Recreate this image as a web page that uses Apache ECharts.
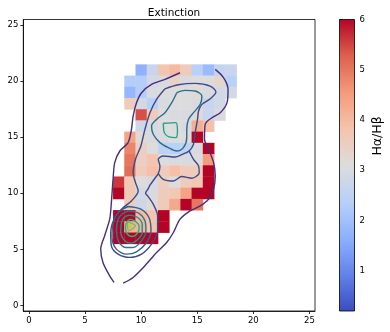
<!DOCTYPE html>
<html>
<head>
<meta charset="utf-8">
<script src="https://cdn.jsdelivr.net/npm/echarts@6/dist/echarts.min.js"></script>
<style>
  html, body { margin: 0; padding: 0; background: #fff; }
  #chart { width: 390px; height: 332px; }
</style>
</head>
<body>
<div id="chart"></div>
<script>
// grid cells: columns and rows of the binned map
const cols = [8, 9, 10, 11, 12, 13, 14, 15, 16, 17, 18];
const rows = [21, 20, 19, 18, 17, 16, 15, 14, 13, 12, 11, 10, 9, 8, 7, 6];
// Hα/Hβ per cell, one line per row (top to bottom), null = empty
const ratio = [
  [null, null, 1.7, 2.7, 3.8, 4.0, 3.6, 2.4, 1.9, 2.6, 2.7],
  [null, 2.3, 2.3, 2.9, 3.0, 3.4, 3.0, 3.1, 3.1, 3.3, 2.4],
  [null, 1.8, 2.3, 3.0, 3.1, 3.1, 3.1, 3.2, 3.0, 2.9, 2.9],
  [null, 3.6, 2.9, 2.4, 3.0, 3.1, 3.1, 3.0, 2.7, 2.9, null],
  [null, null, 5.4, 3.6, 3.1, 3.0, 3.0, 3.2, 2.7, 3.0, null],
  [null, null, 2.8, 3.0, 3.1, 3.1, 3.0, 4.2, 3.9, null, null],
  [null, 4.4, 3.2, 3.0, 3.0, 3.1, 3.1, 6.0, null, null, null],
  [null, 4.8, 3.5, 3.1, 2.5, 2.4, 2.5, 3.0, 6.0, null, null],
  [null, 5.0, 3.5, 3.8, 3.1, 3.0, 3.0, 3.1, 4.5, null, null],
  [null, 5.1, 3.6, 3.9, 3.6, 3.9, 3.6, 3.6, 6.0, null, null],
  [5.6, 3.7, 3.1, 3.0, 3.5, 3.1, 3.6, 3.7, 6.0, null, null],
  [6.0, 3.7, 2.9, 3.0, 3.6, 3.7, 4.4, 6.0, 6.0, null, null],
  [null, 3.6, 2.8, 3.2, 3.6, 4.3, 6.0, 5.0, null, null, null],
  [6.0, 6.0, 4.0, 3.8, 6.0, null, null, null, null, null, null],
  [6.0, 4.2, 4.1, 3.8, 6.0, null, null, null, null, null, null],
  [6.0, 6.0, 6.0, 6.0, null, null, null, null, null, null, null]
];

// density contours (data coordinates)
const outerLeft = [[13.47,20.75],[12.13,20.16],[10.93,19.71],[10.04,18.97],[9.59,18.08],[9.29,16.89],[9.14,15.70],[8.84,14.52],[8.10,13.77],[7.65,12.74],[7.50,11.25],[7.35,9.17],[7.20,7.69],[6.75,6.21],[6.40,5.02],[6.60,3.83],[7.20,2.64],[7.59,2.05]];
const outerRight = [[16.61,21.05],[17.36,20.30],[17.75,19.27],[17.66,18.08],[17.06,17.19],[16.31,16.74],[15.71,16.15],[15.65,14.81],[16.01,13.92],[16.46,12.74],[16.61,11.55],[16.46,10.36],[16.01,9.47],[15.27,8.88],[14.37,8.43],[13.47,7.69],[12.88,6.50],[12.28,5.61],[11.38,4.72],[10.34,3.53],[9.29,2.49],[8.40,1.99]];
const level2 = [[12.13,19.32],[13.32,19.68],[14.82,19.80],[16.16,19.56],[16.67,19.03],[16.16,18.43],[15.42,17.93],[15.12,17.34],[15.03,16.59],[14.82,15.41],[14.67,14.37],[14.28,13.77],[13.62,13.45],[13.03,13.24],[11.98,13.33],[11.53,13.03],[11.68,12.38],[11.53,11.76],[11.17,11.25],[10.79,10.72],[10.64,10.42],[10.40,10.00],[10.58,9.77],[11.08,9.03],[11.47,7.99],[11.47,6.65],[10.93,5.46],[10.04,4.57],[8.99,4.28],[7.95,4.57],[7.35,5.31],[7.29,6.50],[7.59,7.69],[8.25,8.58],[9.14,9.32],[9.74,10.21],[9.50,10.95],[9.29,11.84],[9.50,13.03],[9.98,14.22],[10.34,15.70],[10.79,17.19],[11.38,18.37],[12.13,19.32]];
const level2Lobe = [[11.53,11.76],[11.98,11.25],[12.88,11.10],[13.62,11.49],[14.52,11.34],[15.18,11.84],[15.12,12.44],[14.67,13.03],[14.28,13.77]];
const upper3 = [[13.18,18.97],[13.92,19.18],[14.82,19.12],[15.42,18.67],[15.27,17.93],[14.67,17.19],[14.22,16.59],[14.07,15.70],[14.07,14.96],[13.77,14.07],[13.18,13.77],[12.43,14.07],[11.68,14.52],[11.08,15.26],[10.93,16.00],[11.38,16.59],[12.13,17.19],[12.73,18.08],[13.18,18.97]];
const upper4 = [[11.98,16.24],[13.09,16.30],[13.24,15.56],[13.09,14.96],[12.43,15.05],[12.07,15.41],[11.98,16.24]];
const lower3 = [[8.84,8.82],[9.98,8.58],[10.70,7.84],[10.88,6.65],[10.49,5.61],[9.59,4.78],[8.69,4.57],[7.80,5.02],[7.41,6.06],[7.50,7.39],[8.01,8.34],[8.84,8.82]];
const lower4 = [[8.90,8.43],[9.80,8.22],[10.34,7.54],[10.43,6.65],[10.04,5.76],[9.29,5.17],[8.61,5.17],[8.01,5.67],[7.80,6.65],[7.95,7.69],[8.40,8.22],[8.90,8.43]];
const lower5 = [[8.99,8.05],[9.68,7.84],[10.10,7.24],[10.10,6.50],[9.68,5.85],[9.08,5.55],[8.55,5.76],[8.19,6.50],[8.25,7.39],[8.55,7.90],[8.99,8.05]];
const lower6 = [[9.05,7.69],[9.56,7.45],[9.83,7.04],[9.68,6.44],[9.23,6.15],[8.78,6.35],[8.61,6.95],[8.72,7.45],[9.05,7.69]];
const lower7 = [[8.78,7.45],[9.50,7.10],[8.90,6.65],[8.78,7.45]];
const lower8 = [[8.90,7.19],[9.14,7.10],[8.93,6.98],[8.90,7.19]];

const axisTicks = [0, 5, 10, 15, 20, 25];
const barTicks = [1, 2, 3, 4, 5, 6];
const barMin = 0.2, barMax = 6;

const coolwarm = ['#3b4cc0', '#6282ea', '#8db0fe', '#b8d0f9', '#dddcdc', '#f5c4ac', '#f49a7b', '#de604d', '#b40426'];

const cells = [];
rows.forEach((r, i) => {
  cols.forEach((c, j) => {
    const v = ratio[i][j];
    if (v != null) cells.push([c, r, v]);
  });
});

const contours = [
  [outerLeft, '#472f7d'], [outerRight, '#472f7d'],
  [level2, '#3e4a89'], [level2Lobe, '#3e4a89'],
  [upper3, '#2e6c8e'], [upper4, '#23a08f'],
  [lower3, '#33638d'], [lower4, '#2a788e'], [lower5, '#21918c'],
  [lower6, '#2ab07f'], [lower7, '#5ec962'], [lower8, '#addc30']
];

const font = 'DejaVu Sans';
const chart = echarts.init(document.getElementById('chart'), null, { renderer: 'canvas' });

const option = {
  animation: false,
  backgroundColor: '#fff',
  title: {
    text: 'Extinction',
    left: 169, top: 3, textAlign: 'center',
    textStyle: { fontFamily: font, fontSize: 10.5, fontWeight: 'normal', color: '#000' }
  },
  grid: [
    { left: 23.3, top: 19.5, width: 291.7, height: 291.5, show: true, borderColor: '#000', borderWidth: 0.8, backgroundColor: 'transparent' },
    { left: 339.5, top: 19.5, width: 15, height: 291.5, show: false }
  ],
  xAxis: [
    {
      type: 'value', gridIndex: 0, min: -0.5, max: 25.5,
      axisLine: { show: true, onZero: false, lineStyle: { color: '#000', width: 0.8 } },
      axisTick: { show: true, length: 3, customValues: axisTicks, lineStyle: { color: '#000', width: 0.8 } },
      axisLabel: { customValues: axisTicks, fontFamily: font, fontSize: 8.5, color: '#000', margin: 5 },
      splitLine: { show: false }
    },
    { type: 'value', gridIndex: 1, min: 0, max: 1, show: false }
  ],
  yAxis: [
    {
      type: 'value', gridIndex: 0, min: -0.5, max: 25.5,
      axisLine: { show: true, onZero: false, lineStyle: { color: '#000', width: 0.8 } },
      axisTick: { show: true, length: 3, customValues: axisTicks, lineStyle: { color: '#000', width: 0.8 } },
      axisLabel: { customValues: axisTicks, fontFamily: font, fontSize: 8.5, color: '#000', margin: 5 },
      splitLine: { show: false }
    },
    {
      type: 'value', gridIndex: 1, min: barMin, max: barMax, position: 'right',
      axisLine: { show: false },
      axisTick: { show: true, length: 3, customValues: barTicks, lineStyle: { color: '#000', width: 0.8 } },
      axisLabel: { customValues: barTicks, fontFamily: font, fontSize: 8.5, color: '#000', margin: 5 },
      splitLine: { show: false }
    }
  ],
  visualMap: {
    show: false, seriesIndex: 0, dimension: 2,
    min: barMin, max: barMax,
    inRange: { color: coolwarm }
  },
  graphic: [{
    type: 'text', x: 378, y: 136, rotation: Math.PI / 2,
    style: {
      text: 'Hα/Hβ', fontFamily: font, fontSize: 12.5, fill: '#000',
      align: 'center', verticalAlign: 'middle'
    }
  }],
  series: [
    {
      type: 'custom', xAxisIndex: 0, yAxisIndex: 0, data: cells,
      renderItem: function (params, api) {
        const x = api.value(0), y = api.value(1);
        const p0 = api.coord([x - 0.5, y + 0.5]);
        const p1 = api.coord([x + 0.5, y - 0.5]);
        return {
          type: 'rect',
          shape: { x: p0[0], y: p0[1], width: p1[0] - p0[0] + 0.4, height: p1[1] - p0[1] + 0.4 },
          style: { fill: api.visual('color') }
        };
      }
    },
    {
      type: 'custom', xAxisIndex: 1, yAxisIndex: 1, data: [[0, barMin, barMax]], silent: true,
      renderItem: function (params, api) {
        const top = api.coord([0, api.value(2)]);
        const bottom = api.coord([1, api.value(1)]);
        const stops = coolwarm.map((c, i) => ({ offset: i / (coolwarm.length - 1), color: c }));
        return {
          type: 'rect',
          shape: { x: top[0], y: top[1], width: bottom[0] - top[0], height: bottom[1] - top[1] },
          style: {
            fill: new echarts.graphic.LinearGradient(0, 1, 0, 0, stops),
            stroke: '#000', lineWidth: 0.8
          }
        };
      }
    }
  ].concat(contours.map(([pts, color]) => ({
    type: 'line', xAxisIndex: 0, yAxisIndex: 0, data: pts,
    showSymbol: false, symbol: 'none', smooth: 0.3, silent: true,
    lineStyle: { color: color, width: 1.4 }, z: 3
  })))
};

chart.setOption(option);
</script>
</body>
</html>
